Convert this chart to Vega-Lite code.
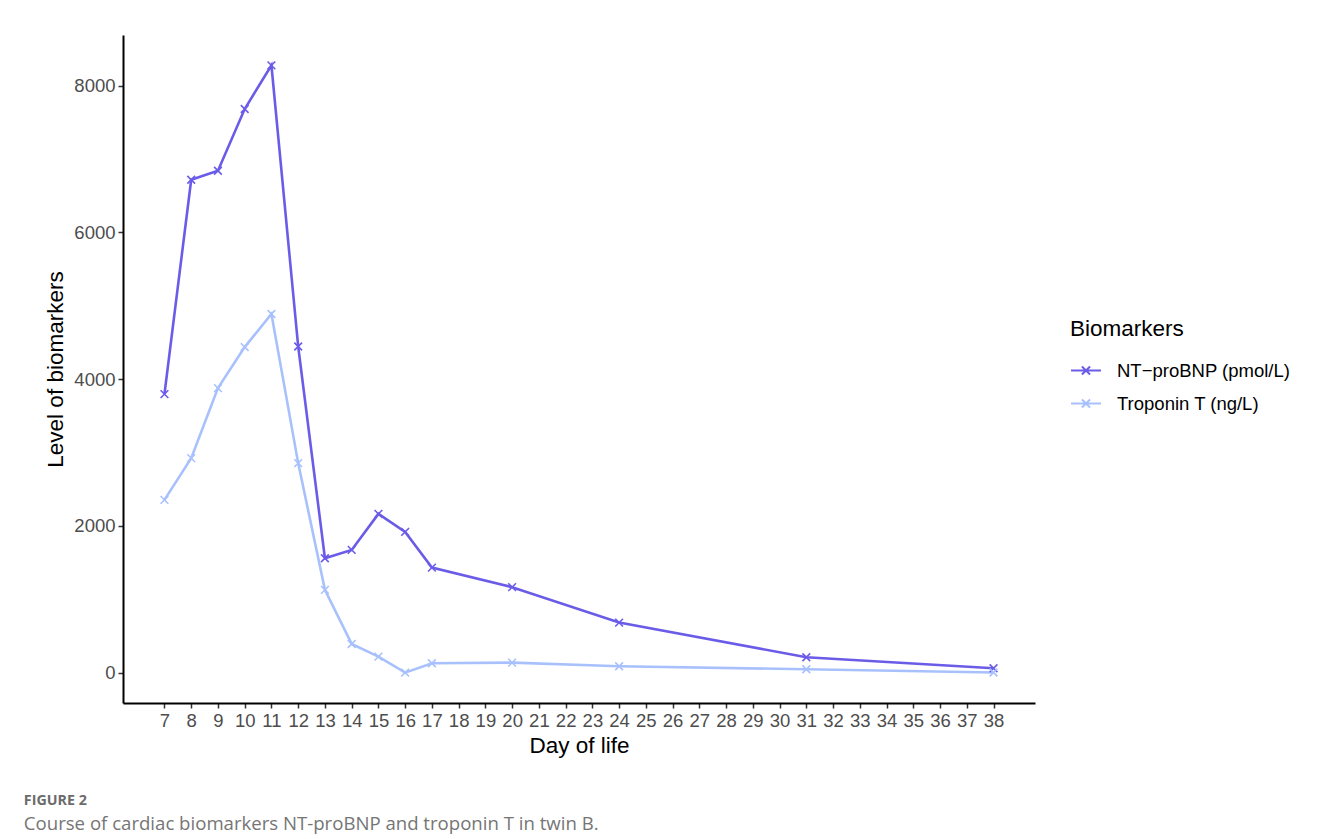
{
  "$schema": "https://vega.github.io/schema/vega-lite/v6.json",
  "autosize": {"type": "none"},
  "padding": {"left": 123, "top": 35, "right": 295, "bottom": 136},
  "width": 912,
  "height": 668,
  "background": "white",
  "title": {
    "text": "FIGURE 2",
    "subtitle": "Course of cardiac biomarkers NT-proBNP and troponin T in twin B.",
    "orient": "bottom",
    "anchor": "start",
    "frame": "bounds",
    "font": "Open Sans",
    "fontSize": 14.3,
    "fontWeight": "bold",
    "color": "#6b6b6b",
    "subtitleFont": "Open Sans",
    "subtitleFontSize": 18.6,
    "subtitleColor": "#757575",
    "subtitlePadding": 7,
    "offset": 37,
    "dx": -21
  },
  "config": {
    "view": {"stroke": null},
    "font": "Liberation Sans"
  },
  "data": {
    "values": [
      {"day": 7, "marker": "NT−proBNP (pmol/L)", "value": 3797},
      {"day": 8, "marker": "NT−proBNP (pmol/L)", "value": 6719},
      {"day": 9, "marker": "NT−proBNP (pmol/L)", "value": 6842},
      {"day": 10, "marker": "NT−proBNP (pmol/L)", "value": 7683},
      {"day": 11, "marker": "NT−proBNP (pmol/L)", "value": 8278},
      {"day": 12, "marker": "NT−proBNP (pmol/L)", "value": 4446},
      {"day": 13, "marker": "NT−proBNP (pmol/L)", "value": 1560},
      {"day": 14, "marker": "NT−proBNP (pmol/L)", "value": 1673},
      {"day": 15, "marker": "NT−proBNP (pmol/L)", "value": 2164},
      {"day": 16, "marker": "NT−proBNP (pmol/L)", "value": 1919},
      {"day": 17, "marker": "NT−proBNP (pmol/L)", "value": 1432},
      {"day": 20, "marker": "NT−proBNP (pmol/L)", "value": 1165},
      {"day": 24, "marker": "NT−proBNP (pmol/L)", "value": 682},
      {"day": 31, "marker": "NT−proBNP (pmol/L)", "value": 210},
      {"day": 38, "marker": "NT−proBNP (pmol/L)", "value": 60},
      {"day": 7, "marker": "Troponin T (ng/L)", "value": 2355},
      {"day": 8, "marker": "Troponin T (ng/L)", "value": 2924},
      {"day": 9, "marker": "Troponin T (ng/L)", "value": 3878},
      {"day": 10, "marker": "Troponin T (ng/L)", "value": 4438},
      {"day": 11, "marker": "Troponin T (ng/L)", "value": 4888},
      {"day": 12, "marker": "Troponin T (ng/L)", "value": 2856},
      {"day": 13, "marker": "Troponin T (ng/L)", "value": 1128},
      {"day": 14, "marker": "Troponin T (ng/L)", "value": 391},
      {"day": 15, "marker": "Troponin T (ng/L)", "value": 218},
      {"day": 16, "marker": "Troponin T (ng/L)", "value": 0},
      {"day": 17, "marker": "Troponin T (ng/L)", "value": 128},
      {"day": 20, "marker": "Troponin T (ng/L)", "value": 136},
      {"day": 24, "marker": "Troponin T (ng/L)", "value": 87},
      {"day": 31, "marker": "Troponin T (ng/L)", "value": 46},
      {"day": 38, "marker": "Troponin T (ng/L)", "value": 2}
    ]
  },
  "encoding": {
    "x": {
      "field": "day",
      "type": "quantitative",
      "scale": {"domain": [5.45, 39.55], "nice": false, "zero": false},
      "axis": {
        "title": "Day of life",
        "values": [7,8,9,10,11,12,13,14,15,16,17,18,19,20,21,22,23,24,25,26,27,28,29,30,31,32,33,34,35,36,37,38],
        "grid": false,
        "labelFontSize": 18.5,
        "labelColor": "#4d4d4d",
        "labelPadding": 3,
        "labelFlush": false,
        "labelOverlap": false,
        "tickColor": "#333333",
        "tickWidth": 1.5,
        "tickSize": 5,
        "domainColor": "#000000",
        "domainWidth": 2,
        "titleFontSize": 22.5,
        "titleFontWeight": "normal",
        "titleColor": "#000000",
        "titlePadding": 5
      }
    },
    "y": {
      "field": "value",
      "type": "quantitative",
      "scale": {"domain": [-414, 8692], "nice": false, "zero": false},
      "axis": {
        "title": "Level of biomarkers",
        "values": [0, 2000, 4000, 6000, 8000],
        "format": "d",
        "grid": false,
        "labelFontSize": 18.5,
        "labelColor": "#4d4d4d",
        "labelPadding": 3,
        "labelFlush": false,
        "tickColor": "#333333",
        "tickWidth": 1.5,
        "tickSize": 5,
        "domainColor": "#000000",
        "domainWidth": 2,
        "titleFontSize": 22.5,
        "titleFontWeight": "normal",
        "titleColor": "#000000",
        "titlePadding": 6
      }
    },
    "color": {
      "field": "marker",
      "type": "nominal",
      "scale": {
        "domain": ["NT−proBNP (pmol/L)", "Troponin T (ng/L)"],
        "range": ["#6b5ce8", "#a8c1fd"]
      },
      "legend": {
        "title": "Biomarkers",
        "orient": "none",
        "legendX": 947,
        "legendY": 283,
        "padding": 0,
        "titleFontSize": 22.5,
        "titleFontWeight": "normal",
        "titleColor": "#000000",
        "titlePadding": 14,
        "labelFontSize": 18.5,
        "labelColor": "#000000",
        "labelLimit": 400,
        "labelOffset": 15,
        "rowPadding": 7,
        "symbolType": "M-1,0L1,0M-0.27,-0.27L0.27,0.27M-0.27,0.27L0.27,-0.27",
        "symbolSize": 900,
        "symbolStrokeWidth": 2,
        "symbolFillColor": "transparent"
      }
    }
  },
  "layer": [
    {
      "mark": {"type": "line", "strokeWidth": 2.6},
      "encoding": {}
    },
    {
      "mark": {
        "type": "point",
        "shape": "M-1,-1L1,1M-1,1L1,-1",
        "filled": false,
        "size": 60,
        "strokeWidth": 1.6,
        "opacity": 1
      },
      "encoding": {}
    }
  ]
}
